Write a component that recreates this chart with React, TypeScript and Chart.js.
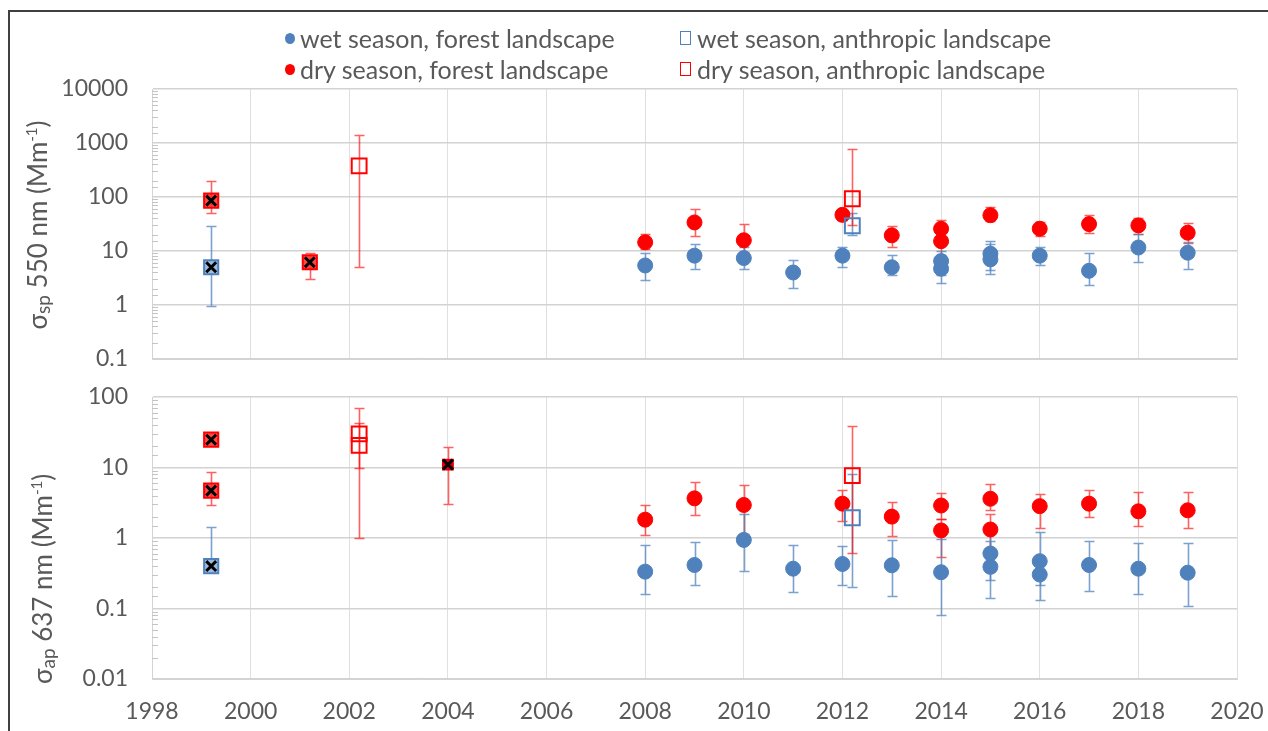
import React, { useEffect, useRef } from 'react';
import { Chart, registerables } from 'chart.js';

Chart.register(...registerables);

// ---------------- data ----------------
const xMin = 1998;
const xMax = 2020;
const xStep = 2;
const spMin = 0.1;
const spMax = 10000;
const apMin = 0.01;
const apMax = 100;

const legendLabels = [
  'wet season, forest landscape',
  'wet season, anthropic landscape',
  'dry season, forest landscape',
  'dry season, anthropic landscape',
];

// top panel: scattering 550 nm
const spWetForestX = [2008, 2009, 2010, 2011, 2012, 2013, 2014, 2014, 2015, 2015, 2016, 2017, 2018, 2019];
const spWetForestY = [5.4, 8.2, 7.4, 4.0, 8.2, 5.0, 6.5, 4.7, 8.9, 7.0, 8.2, 4.3, 11.6, 9.3];
const spWetForestLo = [2.9, 4.7, 4.7, 2.1, 5.0, 3.6, 3.6, 2.6, 4.5, 3.8, 5.4, 2.3, 6.2, 4.7];
const spWetForestHi = [9.3, 13.7, 11.8, 6.7, 12.1, 8.4, 9.9, 8.5, 15.2, 13.2, 12.1, 9.3, 21, 14.5];

const spDryForestX = [2008, 2009, 2010, 2012, 2013, 2014, 2014, 2015, 2016, 2017, 2018, 2019];
const spDryForestY = [14.5, 33.8, 15.8, 46.7, 19.5, 25.8, 15.2, 46, 25.9, 31.5, 29.8, 21.8];
const spDryForestLo = [10.8, 19.2, 9.4, 37, 12.1, 15, 8, 36, 19.2, 21.5, 20.6, 13.9];
const spDryForestHi = [20.6, 61, 32, 57, 29, 37, 25, 65, 34.8, 46, 40.6, 33];

const spWetAnthX = [2012.2];
const spWetAnthY = [29.4];
const spWetAnthLo = [20];
const spWetAnthHi = [50];

const spDryAnthX = [2002.2, 2012.2];
const spDryAnthY = [376, 93];
const spDryAnthLo = [5.1, 30];
const spDryAnthHi = [1392, 771];

const spWetRefX = [1999.2];
const spWetRefY = [5.0];
const spWetRefLo = [0.95];
const spWetRefHi = [29.4];

const spDryRefX = [1999.2, 2001.2];
const spDryRefY = [85.7, 6.2];
const spDryRefLo = [50.9, 3.0];
const spDryRefHi = [194, 9.1];

// bottom panel: absorption 637 nm
const apWetForestX = [2008, 2009, 2010, 2011, 2012, 2013, 2014, 2015, 2015, 2016, 2016, 2017, 2018, 2019];
const apWetForestY = [0.333, 0.414, 0.94, 0.367, 0.428, 0.41, 0.327, 0.603, 0.39, 0.469, 0.303, 0.414, 0.367, 0.322];
const apWetForestLo = [0.161, 0.218, 0.344, 0.173, 0.213, 0.149, 0.081, 0.25, 0.142, 0.214, 0.131, 0.179, 0.161, 0.11];
const apWetForestHi = [0.8, 0.877, 2.2, 0.8, 0.76, 0.94, 0.98, 1.2, 0.9, 1.21, 0.55, 0.906, 0.84, 0.84];

const apDryForestX = [2008, 2009, 2010, 2012, 2013, 2014, 2014, 2015, 2015, 2016, 2017, 2018, 2019];
const apDryForestY = [1.82, 3.65, 2.94, 3.07, 2.01, 2.89, 1.28, 3.6, 1.32, 2.83, 3.07, 2.39, 2.47];
const apDryForestLo = [1.11, 2.1, 1.14, 1.72, 1.08, 1.83, 0.54, 2.48, 0.65, 1.4, 2.01, 1.48, 1.37];
const apDryForestHi = [2.94, 6.16, 5.7, 4.8, 3.24, 4.28, 1.83, 5.74, 2.22, 4.24, 4.8, 4.44, 4.44];

const apWetAnthX = [2012.2];
const apWetAnthY = [1.94];
const apWetAnthLo = [0.2];
const apWetAnthHi = [8.0];

const apDryAnthX = [2002.2, 2002.2, 2012.2];
const apDryAnthY = [30, 20.6, 7.66];
const apDryAnthLo = [1.0, 10, 0.607];
const apDryAnthHi = [70.6, 42.8, 39.2];

const apWetRefX = [1999.2];
const apWetRefY = [0.4];
const apWetRefLo = [null];
const apWetRefHi = [1.45];

const apDryRefX = [1999.2, 1999.2];
const apDryRefY = [24.8, 4.7];
const apDryRefLo = [null, 2.9];
const apDryRefHi = [null, 8.5];

const apDryOtherX = [2004];
const apDryOtherY = [11.0];
const apDryOtherLo = [3.07];
const apDryOtherHi = [19.3];

// ---------------- styles ----------------
const FONT = 'Lato, "Open Sans", sans-serif';
const TEXT = '#595959';
const BLUE = '#4F81BD';
const RED = '#FF0000';
const BLUE_ERR = 'rgba(79,129,189,0.75)';
const RED_ERR = 'rgba(255,0,0,0.62)';

// target plot areas (canvas coordinates)
const TOP_AREA = { left: 152, right: 1237, top: 89, bottom: 359 };
const BOT_AREA = { left: 152, right: 1237, top: 17, bottom: 299 };

const pts = (xs: number[], ys: number[]) => xs.map((x, i) => ({ x, y: ys[i] }));
const isMajor = (v: number) => Math.abs(Math.log10(v) - Math.round(Math.log10(v))) < 1e-6;

const errorBarPlugin = {
  id: 'errorBars',
  beforeDatasetsDraw(chart: any) {
    const { ctx, chartArea } = chart;
    const xs = chart.scales.x;
    const ys = chart.scales.y;
    ctx.save();
    ctx.beginPath();
    ctx.rect(chartArea.left, chartArea.top - 1, chartArea.right - chartArea.left, chartArea.bottom - chartArea.top + 2);
    ctx.clip();
    chart.data.datasets.forEach((ds: any, di: number) => {
      if (!ds.errLo || !chart.isDatasetVisible(di)) return;
      ctx.strokeStyle = ds.errColor;
      ctx.lineWidth = 1.6;
      ds.data.forEach((p: any, i: number) => {
        const px = Math.round(xs.getPixelForValue(p.x)) + 0.5;
        const py = ys.getPixelForValue(p.y);
        const lo = ds.errLo[i];
        const hi = ds.errHi[i];
        ctx.beginPath();
        if (lo != null) {
          const ly = Math.round(ys.getPixelForValue(lo)) + 0.5;
          ctx.moveTo(px, py);
          ctx.lineTo(px, ly);
          ctx.moveTo(px - 5, ly);
          ctx.lineTo(px + 5, ly);
        }
        if (hi != null) {
          const hy = Math.round(ys.getPixelForValue(hi)) + 0.5;
          ctx.moveTo(px, py);
          ctx.lineTo(px, hy);
          ctx.moveTo(px - 5, hy);
          ctx.lineTo(px + 5, hy);
        }
        ctx.stroke();
      });
    });
    ctx.restore();
  },
};

const minorTickPlugin = {
  id: 'minorTicks',
  beforeDatasetsDraw(chart: any) {
    const { ctx, chartArea } = chart;
    const ys = chart.scales.y;
    ctx.save();
    ctx.strokeStyle = '#c4c4c4';
    ctx.lineWidth = 1;
    ys.ticks.forEach((t: any) => {
      if (isMajor(t.value)) return;
      const py = Math.round(ys.getPixelForValue(t.value)) + 0.5;
      ctx.beginPath();
      ctx.moveTo(chartArea.left, py);
      ctx.lineTo(chartArea.left + 6, py);
      ctx.stroke();
    });
    ctx.restore();
  },
};

const axisTitlePlugin = {
  id: 'axisTitle',
  afterDraw(chart: any, _args: any, opts: any) {
    const { ctx } = chart;
    const pieces = opts.pieces as { text: string; size: number; dy: number }[];
    ctx.save();
    ctx.translate(opts.x, opts.y);
    ctx.rotate(-Math.PI / 2);
    let total = 0;
    pieces.forEach((p) => {
      ctx.font = `${p.size}px ${FONT}`;
      total += ctx.measureText(p.text).width;
    });
    let cx = -total / 2;
    ctx.fillStyle = TEXT;
    ctx.textBaseline = 'alphabetic';
    ctx.textAlign = 'left';
    pieces.forEach((p) => {
      ctx.font = `${p.size}px ${FONT}`;
      ctx.fillText(p.text, cx, opts.baseline + p.dy);
      cx += ctx.measureText(p.text).width;
    });
    ctx.restore();
  },
};

function errDs(label: string, xs: number[], ys: number[], lo: any[], hi: any[], style: any) {
  return { label, data: pts(xs, ys), errLo: lo, errHi: hi, ...style };
}

const circleStyle = (color: string, errColor: string) => ({
  pointStyle: 'circle',
  pointRadius: 7.5,
  pointHoverRadius: 7.5,
  backgroundColor: color,
  borderColor: color,
  borderWidth: 1,
  errColor,
  showLine: false,
});
const openSquare = (color: string, errColor: string) => ({
  pointStyle: 'rect',
  pointRadius: 10.5,
  pointHoverRadius: 10.5,
  backgroundColor: 'rgba(0,0,0,0)',
  borderColor: color,
  borderWidth: 2,
  errColor,
  showLine: false,
});
const filledSquare = (stroke: string, fill: string, errColor: string) => ({
  pointStyle: 'rect',
  pointRadius: 10,
  pointHoverRadius: 10,
  backgroundColor: fill,
  borderColor: stroke,
  borderWidth: 2,
  errColor,
  showLine: false,
});
const crossStyle = {
  pointStyle: 'crossRot',
  pointRadius: 7,
  pointHoverRadius: 7,
  borderColor: '#000000',
  backgroundColor: '#000000',
  borderWidth: 3,
  showLine: false,
};

function yScale(min: number, max: number) {
  return {
    type: 'logarithmic',
    min,
    max,
    afterFit: (s: any) => {
      s.width = 152;
      s.paddingTop = 0;
      s.paddingBottom = 0;
    },
    border: { display: true, color: '#d4d4d4', width: 1 },
    grid: {
      drawTicks: false,
      color: (c: any) => (c.tick && isMajor(c.tick.value) ? '#d2d2d2' : 'rgba(0,0,0,0)'),
      lineWidth: 1.5,
    },
    ticks: {
      autoSkip: false,
      padding: 24,
      color: TEXT,
      font: { size: 23, family: FONT },
      callback: (v: any) => (isMajor(Number(v)) ? String(Number(v)) : ''),
    },
  };
}

function xScale(showLabels: boolean) {
  return {
    type: 'linear',
    min: xMin,
    max: xMax,
    afterFit: (s: any) => {
      s.height = showLabels ? 52 : 0;
      s.paddingLeft = 0;
      s.paddingRight = 0;
    },
    border: { display: true, color: '#d4d4d4', width: 1 },
    grid: { drawTicks: false, color: '#e0e0e0', lineWidth: 1 },
    ticks: {
      display: showLabels,
      stepSize: xStep,
      padding: 19,
      color: TEXT,
      font: { size: 23, family: FONT },
      callback: (v: any) => String(v),
    },
  };
}

function baseOptions(showX: boolean, area: any, ymin: number, ymax: number, title: any, canvasH: number) {
  return {
    animation: false,
    responsive: false,
    maintainAspectRatio: false,
    layout: { padding: { top: area.top, bottom: canvasH - area.bottom - (showX ? 52 : 0), left: 0, right: 1268 - area.right } },
    plugins: {
      legend: { display: false },
      tooltip: { enabled: false },
      axisTitle: title,
    },
    scales: { x: xScale(showX), y: yScale(ymin, ymax) },
  };
}

// nudge layout padding until the plot area sits where the reference has it
function fitArea(chart: any, target: any) {
  for (let k = 0; k < 3; k++) {
    const a = chart.chartArea;
    const p = chart.options.layout.padding;
    const dTop = target.top - a.top;
    const dBot = a.bottom - target.bottom;
    const dRight = a.right - target.right;
    if (Math.abs(dTop) < 0.5 && Math.abs(dBot) < 0.5 && Math.abs(dRight) < 0.5) break;
    p.top += dTop;
    p.bottom += dBot;
    p.right += dRight;
    chart.update();
  }
}

export default function App() {
  const topRef = useRef<HTMLCanvasElement | null>(null);
  const botRef = useRef<HTMLCanvasElement | null>(null);

  useEffect(() => {
    Chart.defaults.font.family = FONT;
    const top = new Chart(topRef.current as HTMLCanvasElement, {
      type: 'scatter',
      data: {
        datasets: [
          { label: 'x', data: [...pts(spWetRefX, spWetRefY), ...pts(spDryRefX, spDryRefY)], ...crossStyle, order: 0 },
          errDs('wet ref', spWetRefX, spWetRefY, spWetRefLo, spWetRefHi, { ...filledSquare(BLUE, '#9DBBE0', BLUE_ERR), order: 1 }),
          errDs('dry ref', spDryRefX, spDryRefY, spDryRefLo, spDryRefHi, { ...filledSquare(RED, 'rgba(255,40,40,0.85)', RED_ERR), order: 1 }),
          errDs(legendLabels[1], spWetAnthX, spWetAnthY, spWetAnthLo, spWetAnthHi, { ...openSquare(BLUE, BLUE_ERR), order: 2 }),
          errDs(legendLabels[3], spDryAnthX, spDryAnthY, spDryAnthLo, spDryAnthHi, { ...openSquare(RED, RED_ERR), order: 2 }),
          errDs(legendLabels[2], spDryForestX, spDryForestY, spDryForestLo, spDryForestHi, { ...circleStyle(RED, RED_ERR), order: 3 }),
          errDs(legendLabels[0], spWetForestX, spWetForestY, spWetForestLo, spWetForestHi, { ...circleStyle(BLUE, BLUE_ERR), order: 4 }),
        ],
      } as any,
      options: baseOptions(false, TOP_AREA, spMin, spMax, {
        x: 38,
        y: 225,
        baseline: 9,
        pieces: [
          { text: 'σ', size: 26, dy: 0 },
          { text: 'sp', size: 19, dy: 3 },
          { text: ' 550 nm (Mm', size: 26, dy: 0 },
          { text: '-1', size: 15, dy: -10 },
          { text: ')', size: 26, dy: 0 },
        ],
      }, 380) as any,
      plugins: [errorBarPlugin, minorTickPlugin, axisTitlePlugin],
    });

    const bot = new Chart(botRef.current as HTMLCanvasElement, {
      type: 'scatter',
      data: {
        datasets: [
          { label: 'x', data: [...pts(apWetRefX, apWetRefY), ...pts(apDryRefX, apDryRefY), ...pts(apDryOtherX, apDryOtherY)], ...crossStyle, order: 0 },
          errDs('dry other', apDryOtherX, apDryOtherY, apDryOtherLo, apDryOtherHi, { ...filledSquare('#E00000', '#E00000', RED_ERR), pointRadius: 7, order: 1 }),
          errDs('wet ref', apWetRefX, apWetRefY, apWetRefLo, apWetRefHi, { ...filledSquare(BLUE, '#9DBBE0', BLUE_ERR), order: 1 }),
          errDs('dry ref', apDryRefX, apDryRefY, apDryRefLo, apDryRefHi, { ...filledSquare(RED, 'rgba(255,40,40,0.85)', RED_ERR), order: 1 }),
          errDs(legendLabels[1], apWetAnthX, apWetAnthY, apWetAnthLo, apWetAnthHi, { ...openSquare(BLUE, BLUE_ERR), order: 2 }),
          errDs(legendLabels[3], apDryAnthX, apDryAnthY, apDryAnthLo, apDryAnthHi, { ...openSquare(RED, RED_ERR), order: 2 }),
          errDs(legendLabels[2], apDryForestX, apDryForestY, apDryForestLo, apDryForestHi, { ...circleStyle(RED, RED_ERR), order: 3 }),
          errDs(legendLabels[0], apWetForestX, apWetForestY, apWetForestLo, apWetForestHi, { ...circleStyle(BLUE, BLUE_ERR), order: 4 }),
        ],
      } as any,
      options: baseOptions(true, BOT_AREA, apMin, apMax, {
        x: 43,
        y: 199,
        baseline: 9,
        pieces: [
          { text: 'σ', size: 26, dy: 0 },
          { text: 'ap', size: 19, dy: 3 },
          { text: ' 637 nm (Mm', size: 26, dy: 0 },
          { text: '-1', size: 15, dy: -10 },
          { text: ')', size: 26, dy: 0 },
        ],
      }, 351) as any,
      plugins: [errorBarPlugin, minorTickPlugin, axisTitlePlugin],
    });

    fitArea(top, TOP_AREA);
    fitArea(bot, BOT_AREA);

    return () => {
      top.destroy();
      bot.destroy();
    };
  }, []);

  const legendText: React.CSSProperties = { fontSize: 25, color: TEXT, fontFamily: FONT, whiteSpace: 'nowrap', lineHeight: '30px' };
  const item = (left: number, top: number): React.CSSProperties => ({
    position: 'absolute',
    left,
    top: top - 15,
    height: 30,
    display: 'flex',
    alignItems: 'center',
  });
  const dot = (c: string): React.CSSProperties => ({ width: 10, height: 11, borderRadius: '50%', background: c, marginRight: 5 });
  const sq = (c: string): React.CSSProperties => ({ width: 9, height: 12, border: `1.5px solid ${c}`, marginRight: 6 });

  return (
    <div style={{ position: 'fixed', left: 0, top: 0, width: 1268, height: 731, background: '#ffffff', overflow: 'hidden' }}>
      <div
        style={{
          position: 'absolute',
          left: 8,
          top: 10,
          width: 1300,
          height: 760,
          borderTop: '2px solid #404040',
          borderLeft: '2px solid #404040',
        }}
      />
      <canvas ref={topRef} width={1268} height={380} style={{ position: 'absolute', left: 0, top: 0, display: 'block' }} />
      <canvas ref={botRef} width={1268} height={351} style={{ position: 'absolute', left: 0, top: 380, display: 'block' }} />
      <div style={item(285, 38)}>
        <div style={dot(BLUE)} />
        <span style={legendText}>{legendLabels[0]}</span>
      </div>
      <div style={item(680, 38)}>
        <div style={sq(BLUE)} />
        <span style={legendText}>{legendLabels[1]}</span>
      </div>
      <div style={item(285, 69)}>
        <div style={dot(RED)} />
        <span style={legendText}>{legendLabels[2]}</span>
      </div>
      <div style={item(680, 69)}>
        <div style={sq(RED)} />
        <span style={legendText}>{legendLabels[3]}</span>
      </div>
    </div>
  );
}
